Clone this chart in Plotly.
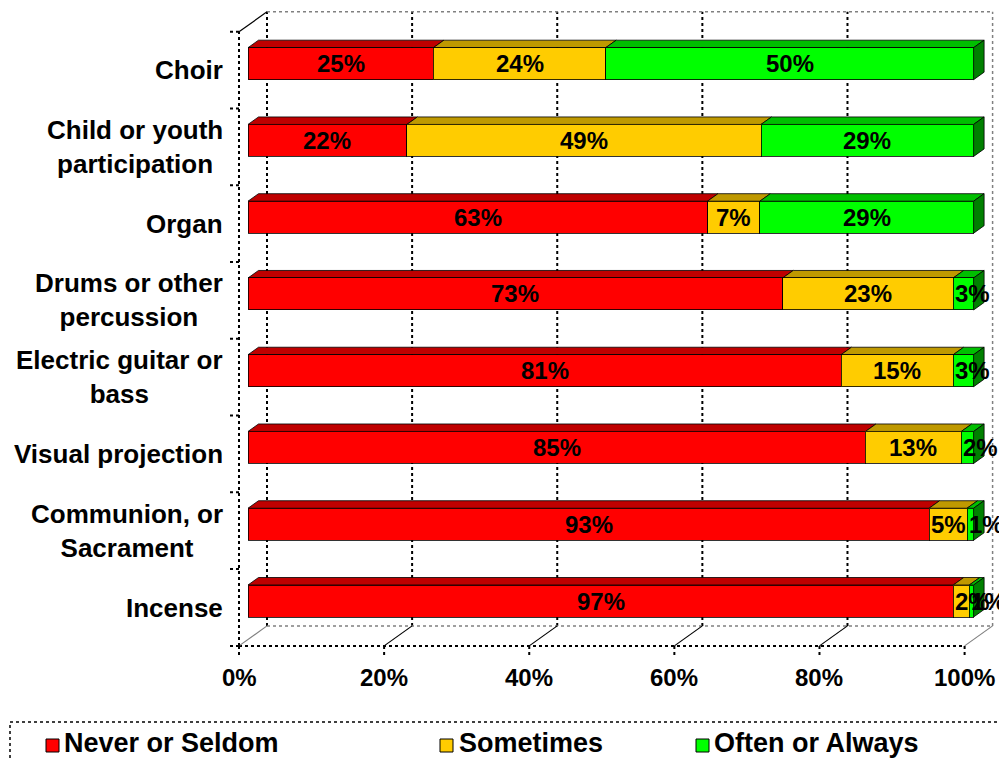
import plotly.graph_objects as go

# ---------------- data ----------------
categories = ["Choir", "Child or youth participation", "Organ", "Drums or other percussion",
              "Electric guitar or bass", "Visual projection", "Communion, or Sacrament", "Incense"]
category_labels = ["Choir", "Child or youth<br>participation", "Organ", "Drums or other<br>percussion",
                   "Electric guitar or<br>bass", "Visual projection", "Communion, or<br>Sacrament", "Incense"]
never = [25.4, 21.9, 63.2, 73.4, 81.4, 85.1, 93.4, 97.2]
sometimes = [23.6, 48.8, 7.2, 23.4, 15.4, 13.2, 5.2, 2.2]
often = [50.4, 29.3, 29.4, 2.8, 2.8, 1.7, 0.9, 0.6]
series_names = ["Never or Seldom", "Sometimes", "Often or Always"]
x_ticks = [0, 20, 40, 60, 80, 100]
x_tick_labels = ["0%", "20%", "40%", "60%", "80%", "100%"]

# ---------------- style ----------------
FRONT_COLORS = ["#FF0000", "#FFCC00", "#00FF00"]
TOP_COLORS = ["#BF0000", "#BF9900", "#00BF00"]
SIDE_COLOR = "#008000"
FONT = "Liberation Sans, Arial, sans-serif"

PAGE_OFF = 8                            # default body margin of the page
W, H = 1007 - PAGE_OFF, 760 - PAGE_OFF
L, R, T, B = 228, 1000, 8, 660          # plot area in page pixels
X0PX, Y0PX = 248, 601                   # page pixel of data (0, 0): bar plane
PXU, PYU = 7.256, 76.76                 # pixels per x unit / per y unit


def ux(p):
    return p / PXU


def uy(p):
    return p / PYU


xr = [(L - X0PX) / PXU, (R - X0PX) / PXU]
yr = [(Y0PX - B) / PYU, (Y0PX - T) / PYU]


def pxp(p):
    return (p - L) / (R - L)


def pyp(p):
    return (B - p) / (B - T)


def data_to_paper(x, y):
    return pxp(X0PX + x * PXU), pyp(Y0PX - y * PYU)


# depth offsets (data units); pixel offsets: right +, up +
FDX, FDY = -ux(9), -uy(6.5)      # front wall
BDX, BDY = ux(19), uy(13.5)      # back wall
DDX, DDY = ux(10.5), uy(7.5)     # bar depth
BAR_W = uy(32)

n = len(categories)
ypos = [n - 1 - i for i in range(n)]
series = [never, sometimes, often]

# normalised values (100 % stacked)
norm = []
for i in range(n):
    tot = never[i] + sometimes[i] + often[i]
    norm.append([s[i] / tot * 100 for s in series])

fig = go.Figure()
for k, (name, vals) in enumerate(zip(series_names, series)):
    fig.add_trace(go.Bar(
        y=ypos, x=vals, orientation="h", name=name, width=BAR_W,
        marker=dict(color=FRONT_COLORS[k], line=dict(color="rgba(0,0,0,0.8)", width=1)),
        hovertext=categories, showlegend=False,
    ))

shapes = []


def line(x0, y0, x1, y1, color="black", dash="dot", width=1.5):
    shapes.append(dict(type="line", xref="x", yref="y", x0=x0, y0=y0, x1=x1, y1=y1,
                       line=dict(color=color, dash=dash, width=width), layer="below"))


GREY = "#808080"
y_bot, y_top = -0.5, n - 0.5
# back wall gridlines
for v in x_ticks:
    col = GREY if v == 100 else "black"
    line(v + BDX, y_bot + BDY, v + BDX, y_top + BDY, col, "dot", 2 if v < 100 else 1.5)
line(0 + BDX, y_top + BDY, 100 + BDX, y_top + BDY, GREY)
# floor
line(0 + BDX, y_bot + BDY, 100 + BDX, y_bot + BDY, GREY)
line(0 + FDX, y_bot + FDY, 100 + FDX, y_bot + FDY, "black", "dot", 2)
for v in x_ticks:
    col = GREY if v in (0, 100) else "black"
    line(v + FDX, y_bot + FDY, v + BDX, y_bot + BDY, col, "solid", 1.2)
    line(v + FDX, y_bot + FDY, v + FDX, y_bot + FDY - uy(10), "black", "dot", 2)
# left wall
line(0 + FDX, y_bot + FDY, 0 + FDX, y_top + FDY, "black", "dot", 2)
line(0 + FDX, y_top + FDY, 0 + BDX, y_top + BDY, "black", "solid", 1.2)
for b in range(n + 1):
    yb = b - 0.5 + FDY
    line(FDX - ux(9), yb, FDX, yb, "black", "dot", 2)

# 3D faces of bars
for i in range(n):
    y = ypos[i]
    yt = y + BAR_W / 2
    yb = y - BAR_W / 2
    start = 0.0
    for k in range(3):
        end = start + norm[i][k]
        shapes.append(dict(
            type="path", xref="x", yref="y", layer="below",
            path=f"M {start},{yt} L {end},{yt} L {end + DDX},{yt + DDY} L {start + DDX},{yt + DDY} Z",
            fillcolor=TOP_COLORS[k], line=dict(color="rgba(0,0,0,0.8)", width=1)))
        start = end
    shapes.append(dict(
        type="path", xref="x", yref="y", layer="below",
        path=f"M {start},{yb} L {start},{yt} L {start + DDX},{yt + DDY} L {start + DDX},{yb + DDY} Z",
        fillcolor=SIDE_COLOR, line=dict(color="rgba(0,0,0,0.8)", width=1)))

annotations = []
# bar value labels
LABEL_SIZE = 24
for i in range(n):
    start = 0.0
    for k in range(3):
        raw = series[k][i]
        seg = norm[i][k]
        txt = f"<b>{round(raw)}%</b>"
        text_w = ux(LABEL_SIZE * (0.556 * len(str(round(raw))) + 0.889))
        if seg >= text_w:
            ax, anchor = start + seg / 2, "center"
        else:
            ax, anchor = start, "left"
        px_, py_ = data_to_paper(ax, ypos[i])
        annotations.append(dict(x=px_, y=py_, xref="paper", yref="paper", text=txt, showarrow=False,
                                xanchor=anchor, yanchor="middle",
                                font=dict(family=FONT, size=LABEL_SIZE, color="black")))
        start += seg

# category labels
for i in range(n):
    _, py_ = data_to_paper(0, ypos[i] + FDY)
    annotations.append(dict(x=pxp(225), y=py_, xref="paper", yref="paper",
                            text=f"<b>{category_labels[i]}</b>", showarrow=False,
                            xanchor="right", yanchor="middle", align="center",
                            font=dict(family=FONT, size=26, color="black")))

# x tick labels on front edge
for v, t in zip(x_ticks, x_tick_labels):
    px_, py_ = data_to_paper(v + FDX, y_bot + FDY - uy(32))
    annotations.append(dict(x=px_, y=py_, xref="paper", yref="paper",
                            text=f"<b>{t}</b>", showarrow=False, xanchor="center", yanchor="middle",
                            font=dict(family=FONT, size=24, color="black")))

# legend (paper coordinates)
shapes.append(dict(type="rect", xref="paper", yref="paper", x0=pxp(10), x1=pxp(1000),
                   y0=pyp(722), y1=pyp(800), line=dict(color="black", dash="dot", width=1.5),
                   fillcolor="rgba(0,0,0,0)", layer="above"))
leg_x = [(46, 62), (440, 457), (696, 712)]
for k, (sx, tx) in enumerate(leg_x):
    shapes.append(dict(type="rect", xref="paper", yref="paper", x0=pxp(sx), x1=pxp(sx + 13),
                       y0=pyp(752), y1=pyp(739), fillcolor=FRONT_COLORS[k],
                       line=dict(color="black", width=1), layer="above"))
    annotations.append(dict(x=pxp(tx), y=pyp(743), xref="paper", yref="paper",
                            text=f"<b>{series_names[k]}</b>", showarrow=False,
                            xanchor="left", yanchor="middle",
                            font=dict(family=FONT, size=27, color="black")))

fig.update_layout(
    width=W, height=H, autosize=False,
    margin=dict(l=L - PAGE_OFF, r=1007 - R, t=T - PAGE_OFF, b=760 - B, pad=0),
    barmode="stack", barnorm="percent",
    paper_bgcolor="white", plot_bgcolor="white",
    xaxis=dict(range=xr, visible=False, fixedrange=True),
    yaxis=dict(range=yr, visible=False, fixedrange=True),
    shapes=shapes, annotations=annotations, showlegend=False,
)

fig.write_html("out.html")
